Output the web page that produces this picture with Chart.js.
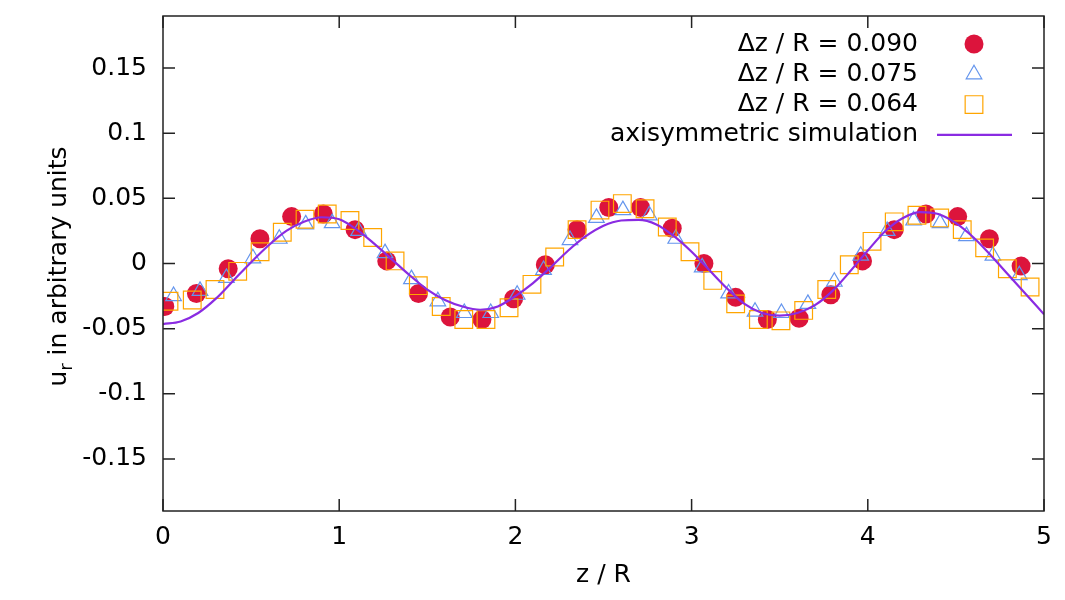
<!DOCTYPE html>
<html>
<head>
<meta charset="utf-8">
<script src="https://cdn.jsdelivr.net/npm/chart.js@4.4.1/dist/chart.umd.min.js"></script>
<style>
  html, body { margin: 0; padding: 0; background: #fff; }
  #wrap { width: 1065px; height: 600px; }
</style>
</head>
<body>
<div id="wrap"><canvas id="chart" width="1065" height="600"></canvas></div>
<script>
// dz/R = 0.090 (filled circles)
const z090 = [0.01, 0.19, 0.37, 0.55, 0.73, 0.91, 1.09, 1.27, 1.45, 1.63, 1.81, 1.99, 2.17, 2.35,
  2.53, 2.71, 2.89, 3.07, 3.25, 3.43, 3.61, 3.79, 3.97, 4.15, 4.33, 4.51, 4.69, 4.87];
const u090 = [-0.033, -0.023, -0.004, 0.019, 0.036, 0.038, 0.026, 0.002, -0.023, -0.041, -0.043, -0.027,
  -0.001, 0.026, 0.043, 0.043, 0.027, 0.000, -0.026, -0.043, -0.042, -0.024, 0.002, 0.026, 0.038, 0.036,
  0.019, -0.002];

// dz/R = 0.075 (open triangles)
const z075 = [0.06, 0.21, 0.36, 0.51, 0.66, 0.81, 0.96, 1.11, 1.26, 1.41, 1.56, 1.71, 1.86, 2.01, 2.16,
  2.31, 2.46, 2.61, 2.76, 2.91, 3.06, 3.21, 3.36, 3.51, 3.66, 3.81, 3.96, 4.11, 4.26, 4.41, 4.56, 4.71, 4.86];
const u075 = [-0.025, -0.021, -0.011, 0.004, 0.019, 0.030, 0.031, 0.025, 0.008, -0.012, -0.029, -0.038,
  -0.038, -0.024, -0.005, 0.018, 0.035, 0.041, 0.037, 0.019, -0.003, -0.023, -0.037, -0.038, -0.031,
  -0.014, 0.006, 0.025, 0.033, 0.031, 0.021, 0.006, -0.009];

// dz/R = 0.064 (open squares)
const z064 = [0.034, 0.166, 0.295, 0.424, 0.551, 0.677, 0.806, 0.932, 1.061, 1.190, 1.317, 1.449, 1.579,
  1.707, 1.833, 1.964, 2.094, 2.223, 2.350, 2.480, 2.607, 2.736, 2.862, 2.991, 3.120, 3.250, 3.379, 3.507,
  3.636, 3.767, 3.895, 4.024, 4.150, 4.279, 4.408, 4.536, 4.663, 4.792, 4.921];
const u064 = [-0.029, -0.028, -0.020, -0.006, 0.009, 0.024, 0.034, 0.038, 0.033, 0.020, 0.002, -0.017,
  -0.033, -0.043, -0.043, -0.034, -0.016, 0.005, 0.026, 0.041, 0.046, 0.042, 0.028, 0.009, -0.013, -0.031,
  -0.043, -0.044, -0.036, -0.020, -0.001, 0.017, 0.032, 0.037, 0.035, 0.026, 0.012, -0.004, -0.018];

// axisymmetric simulation (line)
const zSim = [0, 0.1, 0.2, 0.3, 0.4, 0.5, 0.6, 0.7, 0.8, 0.9, 1.0, 1.1, 1.2, 1.3, 1.4, 1.5, 1.6, 1.7, 1.8,
  1.9, 2.0, 2.1, 2.2, 2.3, 2.4, 2.5, 2.6, 2.7, 2.8, 2.9, 3.0, 3.1, 3.2, 3.3, 3.4, 3.5, 3.6, 3.7, 3.8, 3.9,
  4.0, 4.1, 4.2, 4.3, 4.4, 4.5, 4.6, 4.7, 4.8, 4.9, 5.0];
const uSim = [-0.0465, -0.0445, -0.038, -0.027, -0.013, 0.001, 0.014, 0.025, 0.032, 0.0355, 0.034, 0.026,
  0.015, 0.003, -0.009, -0.020, -0.028, -0.033, -0.0355, -0.033, -0.025, -0.015, -0.003, 0.010, 0.021,
  0.029, 0.033, 0.0335, 0.030, 0.021, 0.009, -0.005, -0.019, -0.031, -0.038, -0.040, -0.038, -0.032,
  -0.021, -0.006, 0.010, 0.025, 0.035, 0.0395, 0.038, 0.031, 0.020, 0.006, -0.009, -0.024, -0.039];

const seriesNames = ["\u0394z / R = 0.090", "\u0394z / R = 0.075", "\u0394z / R = 0.064", "axisymmetric simulation"];

const xTicks = [0, 1, 2, 3, 4, 5];
const xTickLabels = ["0", "1", "2", "3", "4", "5"];
const yTicks = [-0.15, -0.1, -0.05, 0, 0.05, 0.1, 0.15];
const yTickLabels = ["-0.15", "-0.1", "-0.05", "0", "0.05", "0.1", "0.15"];

const FONT = "'DejaVu Sans', Verdana, sans-serif";
const FS = 25;
const TICK = 12;

const pts = (xs, ys) => xs.map((x, i) => ({ x, y: ys[i] }));

const gnuFrame = {
  id: "gnuFrame",
  afterDraw(chart) {
    const { ctx, chartArea: a, scales: { x, y } } = chart;
    ctx.save();

    // border with inward (mirrored) ticks
    ctx.strokeStyle = "#222";
    ctx.lineWidth = 1.5;
    ctx.beginPath();
    xTicks.forEach(v => {
      const p = x.getPixelForValue(v);
      ctx.moveTo(p, a.bottom); ctx.lineTo(p, a.bottom - TICK);
      ctx.moveTo(p, a.top); ctx.lineTo(p, a.top + TICK);
    });
    yTicks.forEach(v => {
      const p = y.getPixelForValue(v);
      ctx.moveTo(a.left, p); ctx.lineTo(a.left + TICK, p);
      ctx.moveTo(a.right, p); ctx.lineTo(a.right - TICK, p);
    });
    ctx.stroke();
    ctx.strokeRect(a.left, a.top, a.right - a.left, a.bottom - a.top);

    // legend, gnuplot style (text right aligned, sample on the right)
    ctx.font = `${FS}px ${FONT}`;
    ctx.textAlign = "right";
    ctx.textBaseline = "middle";
    const textRight = a.right - 126;
    const sampleX = a.right - 70;
    const row0 = a.top + 28;
    const rowH = 30.3;
    chart.data.datasets.forEach((ds, i) => {
      const ry = row0 + i * rowH;
      ctx.fillStyle = "#000";
      ctx.fillText(seriesNames[i], textRight, ry);
      if (ds.showLine) {
        ctx.strokeStyle = ds.borderColor;
        ctx.lineWidth = ds.borderWidth;
        ctx.beginPath();
        ctx.moveTo(sampleX - 37, ry);
        ctx.lineTo(sampleX + 38, ry);
        ctx.stroke();
      } else {
        ctx.fillStyle = ds.pointBackgroundColor;
        ctx.strokeStyle = ds.pointBorderColor;
        ctx.lineWidth = ds.pointBorderWidth;
        Chart.helpers.drawPoint(ctx, {
          pointStyle: ds.pointStyle, radius: ds.pointRadius, borderWidth: ds.pointBorderWidth, rotation: 0
        }, sampleX, ry);
      }
    });

    // axis titles
    ctx.fillStyle = "#000";
    ctx.textAlign = "center";
    ctx.fillText("z / R", (a.left + a.right) / 2, 575);

    // y title with subscript r
    ctx.save();
    ctx.translate(57, (a.top + a.bottom) / 2 + 3);
    ctx.rotate(-Math.PI / 2);
    ctx.textAlign = "left";
    ctx.textBaseline = "alphabetic";
    const mainFont = `${FS}px ${FONT}`;
    const subFont = `${Math.round(FS * 0.72)}px ${FONT}`;
    ctx.font = mainFont;
    const wU = ctx.measureText("u").width;
    const wRest = ctx.measureText(" in arbitrary units").width;
    ctx.font = subFont;
    const wR = ctx.measureText("r").width;
    let tx = -(wU + wR + wRest) / 2;
    const base = 9;
    ctx.font = mainFont;
    ctx.fillText("u", tx, base);
    tx += wU;
    ctx.font = subFont;
    ctx.fillText("r", tx, base + 6);
    tx += wR;
    ctx.font = mainFont;
    ctx.fillText(" in arbitrary units", tx, base);
    ctx.restore();

    ctx.restore();
  }
};

new Chart(document.getElementById("chart"), {
  type: "scatter",
  data: {
    datasets: [
      {
        label: seriesNames[0], data: pts(z090, u090), order: 4,
        pointStyle: "circle", pointRadius: 9.5, pointBorderWidth: 0,
        pointBackgroundColor: "#dc143c", pointBorderColor: "#dc143c", showLine: false
      },
      {
        label: seriesNames[1], data: pts(z075, u075), order: 3,
        pointStyle: "triangle", pointRadius: 9, pointBorderWidth: 1.2,
        pointBackgroundColor: "rgba(0,0,0,0)", pointBorderColor: "#6495ed", showLine: false
      },
      {
        label: seriesNames[2], data: pts(z064, u064), order: 2,
        pointStyle: "rect", pointRadius: 12.5, pointBorderWidth: 1.2,
        pointBackgroundColor: "rgba(0,0,0,0)", pointBorderColor: "#ffa500", showLine: false
      },
      {
        label: seriesNames[3], data: pts(zSim, uSim), order: 1,
        showLine: true, borderColor: "#8a2be2", borderWidth: 2.2, pointRadius: 0,
        cubicInterpolationMode: "monotone", fill: false
      }
    ]
  },
  options: {
    responsive: false,
    animation: false,
    layout: { autoPadding: false, padding: { left: 0, top: 16, right: 21, bottom: 0 } },
    plugins: { legend: { display: false }, tooltip: { enabled: false } },
    scales: {
      x: {
        type: "linear", min: 0, max: 5,
        afterBuildTicks: ax => { ax.ticks = xTicks.map(v => ({ value: v })); },
        afterFit: ax => { ax.height = 89; ax.paddingLeft = 0; ax.paddingRight = 0; },
        grid: { display: false, drawTicks: false },
        border: { display: false },
        ticks: {
          autoSkip: false, maxRotation: 0, padding: 11, color: "#000",
          font: { family: FONT, size: FS },
          callback: v => xTickLabels[xTicks.indexOf(v)]
        }
      },
      y: {
        type: "linear", min: -0.19, max: 0.19,
        afterBuildTicks: ax => { ax.ticks = yTicks.map(v => ({ value: v })); },
        afterFit: ax => { ax.width = 163; ax.paddingTop = 0; ax.paddingBottom = 0; },
        grid: { display: false, drawTicks: false },
        border: { display: false },
        ticks: {
          autoSkip: false, padding: 16, color: "#000",
          font: { family: FONT, size: FS },
          callback: v => yTickLabels[yTicks.indexOf(v)]
        }
      }
    }
  },
  plugins: [gnuFrame]
});
</script>
</body>
</html>
